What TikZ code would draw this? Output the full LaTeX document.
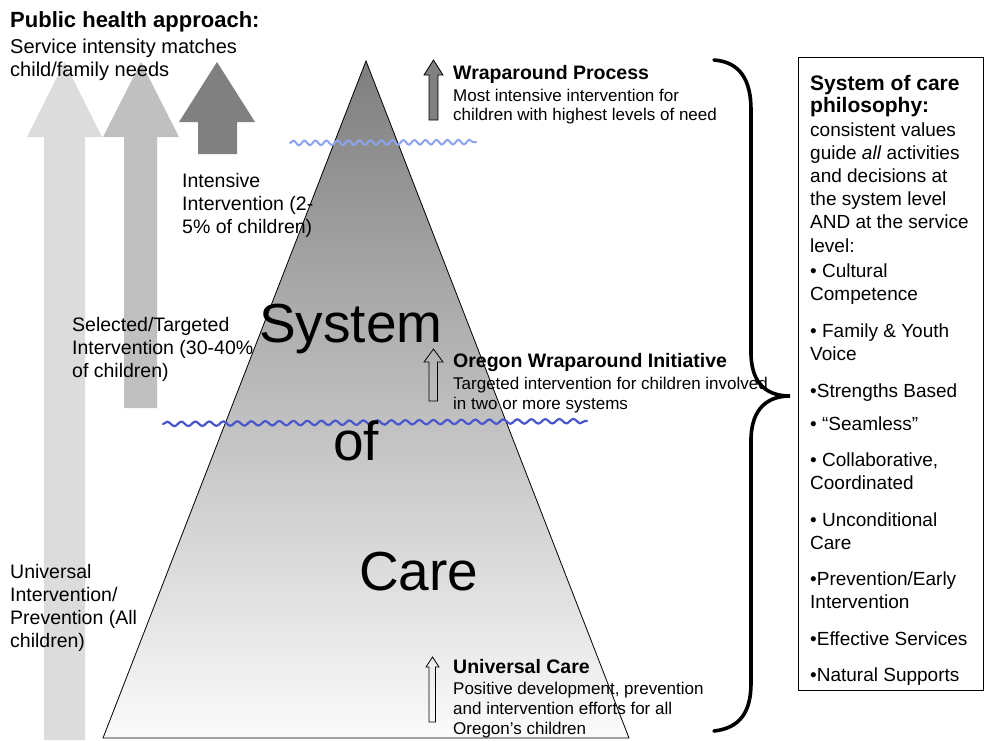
\documentclass[tikz,border=0pt]{standalone}
\usepackage{fontspec}
\setmainfont{Liberation Sans}
\usetikzlibrary{decorations.pathmorphing}
\definecolor{arrowA}{HTML}{DCDCDC}
\definecolor{arrowB}{HTML}{C0C0C0}
\definecolor{arrowC}{HTML}{808080}
\definecolor{waveTop}{HTML}{8CA3EE}
\definecolor{waveMid}{HTML}{4A56CC}
\definecolor{pyrTop}{HTML}{7E7E7E}
\definecolor{pyrBot}{HTML}{FBFBFB}
\newcommand{\fs}[2]{\fontsize{#1}{#2}\selectfont}
\newcommand{\blk}[2]{\parbox[t]{#1}{\raggedright #2}}
\begin{document}
\begin{tikzpicture}[x=1pt,y=-1pt,
  txt/.style={inner sep=0pt, anchor=base west},
  bigarrow/.style={draw=none},
  smallarrow/.style={draw=black, line width=0.8pt},
  wave/.style={decorate, line width=2.2pt, line cap=round},
  brace/.style={line width=3.6pt, line cap=round}]
\useasboundingbox (0,0) rectangle (984,740);
\fill[white] (0,0) rectangle (984,740);

% big public-health arrows
\fill[arrowA] (44,740) -- (44,137) -- (27,137) -- (64.5,62) -- (102,137) -- (85,137) -- (85,740) -- cycle;
\fill[arrowB] (124,408) -- (124,137) -- (103,137) -- (141,62) -- (179,137) -- (157,137) -- (157,408) -- cycle;
\fill[arrowC] (198,154) -- (198,122) -- (179,122) -- (217,62) -- (255,122) -- (237,122) -- (237,154) -- cycle;

% pyramid
\path[draw=black, line width=0.8pt, top color=pyrTop, bottom color=pyrBot]
  (366,61) -- (629,738) -- (103,738) -- cycle;

% wavy lines
\draw[wave, waveTop, line width=2pt, decoration={snake, segment length=11pt, amplitude=2.3pt}]
  (290,143) -- (476,142);
\draw[wave, waveMid, decoration={snake, segment length=14pt, amplitude=2.2pt}]
  (163,424) -- (587,421);

% small arrows
\draw[smallarrow, fill=arrowC] (429,120) -- (429,75) -- (424,75) -- (433.5,60) -- (443,75) -- (438,75) -- (438,120) -- cycle;
\draw[smallarrow] (429,401) -- (429,362) -- (424,362) -- (433.5,349) -- (443,362) -- (437.5,362) -- (437.5,401) -- cycle;
\draw[smallarrow] (429,722) -- (429,667) -- (426,667) -- (432.5,657) -- (439,667) -- (435.5,667) -- (435.5,722) -- cycle;

% brace
\draw[brace] (714,60) .. controls (740,62) and (751,80) .. (751,110) -- (751,355)
  .. controls (752,385) and (768,396) .. (790,396)
  .. controls (768,396) and (752,408) .. (751,438) -- (751,683)
  .. controls (751,712) and (740,728) .. (714,731);

% philosophy box
\draw[line width=1pt] (798,57) rectangle (983.5,690);

% texts: left
\node[txt] (pha) at (10,27) {\fs{22}{24}\bfseries Public health approach:};
\node[txt] (sim) at (10,53) {\blk{260pt}{\fs{20}{23}Service intensity matches\\child/family needs}};
\node[txt] (ii) at (182,187) {\blk{160pt}{\fs{19.5}{23}Intensive\\Intervention (2-\\5\% of children)}};
\node[txt] (sti) at (72,331) {\blk{220pt}{\fs{19.5}{23}Selected/Targeted\\Intervention (30-40\%\\of children)}};
\node[txt] (uip) at (10,578) {\blk{200pt}{\fs{19.5}{23.3}Universal\\Intervention/\\Prevention (All\\children)}};

% pyramid words
\node[txt] (wsys) at (259,342) {\fs{55}{60}System};
\node[txt] (wof) at (333,460) {\fs{55}{60}of};
\node[txt] (wcare) at (359,590) {\fs{55}{60}Care};

% tier labels
\node[txt] (wp) at (453,79) {\fs{19.5}{22}\bfseries Wraparound Process};
\node[txt] (wpd) at (453,101) {\blk{300pt}{\fs{17}{19.5}Most intensive intervention for\\children with highest levels of need}};
\node[txt] (owi) at (453,367) {\fs{19.5}{22}\bfseries Oregon Wraparound Initiative};
\node[txt] (owid) at (453,389) {\blk{340pt}{\fs{17}{20.5}Targeted intervention for children involved\\in two or more systems}};
\node[txt] (uc) at (453,673) {\fs{19.5}{22}\bfseries Universal Care};
\node[txt] (ucd) at (453,694) {\blk{300pt}{\fs{17}{20}Positive development, prevention\\and intervention efforts for all\\Oregon’s children}};

% box texts
\node[txt] (soc) at (810,90) {\blk{170pt}{\fs{21}{22.5}\bfseries System of care\\philosophy:}};
\node[txt] (cv) at (810,136) {\blk{170pt}{\fs{19}{23.2}consistent values\\guide \textit{all} activities\\and decisions at\\the system level\\AND at the service\\level:}};
\node[txt] (b1) at (810,277) {\blk{170pt}{\fs{19}{23.5}• Cultural\\Competence}};
\node[txt] (b2) at (810,337) {\blk{170pt}{\fs{19}{23.5}• Family \& Youth\\Voice}};
\node[txt] (b3) at (810,397) {\fs{19}{23.5}•Strengths Based};
\node[txt] (b4) at (810,430) {\fs{19}{23.5}• “Seamless”};
\node[txt] (b5) at (810,466) {\blk{170pt}{\fs{19}{23.5}• Collaborative,\\Coordinated}};
\node[txt] (b6) at (810,526) {\blk{170pt}{\fs{19}{23.5}• Unconditional\\Care}};
\node[txt] (b7) at (810,585) {\blk{170pt}{\fs{19}{23.5}•Prevention/Early\\Intervention}};
\node[txt] (b8) at (810,645) {\fs{19}{23.5}•Effective Services};
\node[txt] (b9) at (810,681) {\fs{19}{23.5}•Natural Supports};
\end{tikzpicture}
\end{document}
